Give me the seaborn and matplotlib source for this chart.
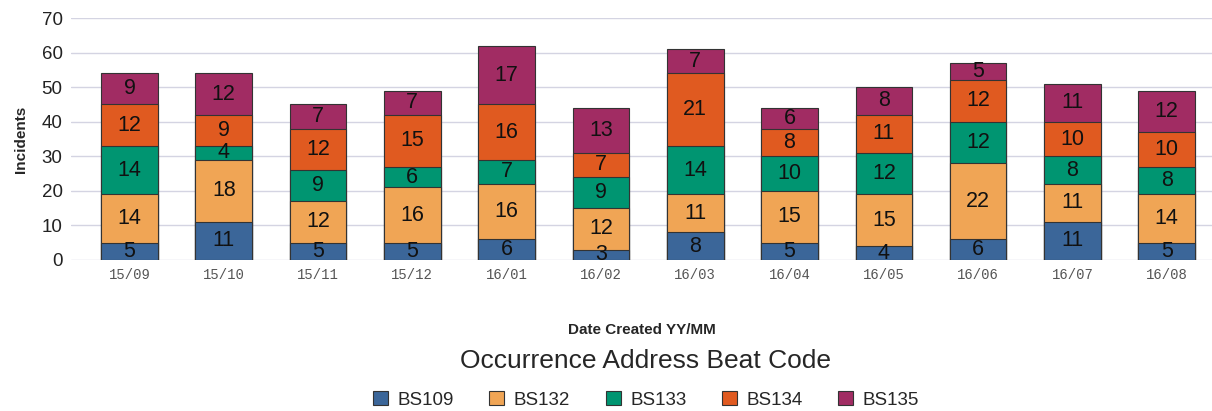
import pandas as pd
import matplotlib.pyplot as plt
import seaborn as sns
from matplotlib.patches import Patch

months = ['15/09', '15/10', '15/11', '15/12', '16/01', '16/02',
          '16/03', '16/04', '16/05', '16/06', '16/07', '16/08']
bs109 = [5, 11, 5, 5, 6, 3, 8, 5, 4, 6, 11, 5]
bs132 = [14, 18, 12, 16, 16, 12, 11, 15, 15, 22, 11, 14]
bs133 = [14, 4, 9, 6, 7, 9, 14, 10, 12, 12, 8, 8]
bs134 = [12, 9, 12, 15, 16, 7, 21, 8, 11, 12, 10, 10]
bs135 = [9, 12, 7, 7, 17, 13, 7, 6, 8, 5, 11, 12]

series = ['BS109', 'BS132', 'BS133', 'BS134', 'BS135']
colors = ['#3b6699', '#f0a555', '#009571', '#e05a20', '#a12c63']

df = pd.DataFrame({'month': months, 'BS109': bs109, 'BS132': bs132,
                   'BS133': bs133, 'BS134': bs134, 'BS135': bs135})
cum = df[series].cumsum(axis=1)

sns.set_style('white')
plt.rcParams['font.family'] = ['Liberation Sans', 'DejaVu Sans']

fig = plt.figure(figsize=(12.12, 4.11), dpi=100)
ax = fig.add_axes([71 / 1212, 1 - 260 / 411, (1212 - 71) / 1212, 242 / 411])

# draw top layer first so lower layers sit over it
for s, c in reversed(list(zip(series, colors))):
    sns.barplot(x=df['month'], y=cum[s], color=c, width=0.6, ax=ax,
                edgecolor='#333333', linewidth=0.8, saturation=1, zorder=3)

for i in range(len(months)):
    bottom = 0
    for s in series:
        v = df[s][i]
        ax.text(i, bottom + v / 2, str(v), ha='center', va='center',
                fontsize=15.5, color='#111111', zorder=4)
        bottom += v

ax.set_ylim(0, 70)
ax.set_xlim(-0.62, 11.48)
ax.set_yticks(range(0, 71, 10))
ax.grid(axis='y', color='#d4d4e2', linewidth=1, zorder=0)
for sp in ax.spines.values():
    sp.set_visible(False)
ax.tick_params(axis='y', length=0, labelsize=13.5, pad=6, labelcolor='#222222')
ax.tick_params(axis='x', length=0, pad=6)
for lab in ax.get_xticklabels():
    lab.set_family(['Liberation Mono', 'DejaVu Sans Mono'])
    lab.set_fontsize(10)
    lab.set_color('#555555')

ax.set_ylabel('Incidents', fontsize=11, fontweight='bold', labelpad=10)
ax.set_xlabel('Date Created YY/MM', fontsize=11, fontweight='bold', labelpad=29)

handles = [Patch(facecolor=c, edgecolor='#333333', linewidth=0.8, label=s)
           for s, c in zip(series, colors)]
leg = fig.legend(handles=handles, loc='lower center', bbox_to_anchor=(0.533, -0.035),
                 ncol=5, frameon=False, fontsize=13.5, title='Occurrence Address Beat Code',
                 title_fontsize=19, handlelength=0.8, handleheight=0.8,
                 columnspacing=1.9, handletextpad=0.5)
leg._legend_box.sep = 13

fig.savefig('out.png', dpi=100)
